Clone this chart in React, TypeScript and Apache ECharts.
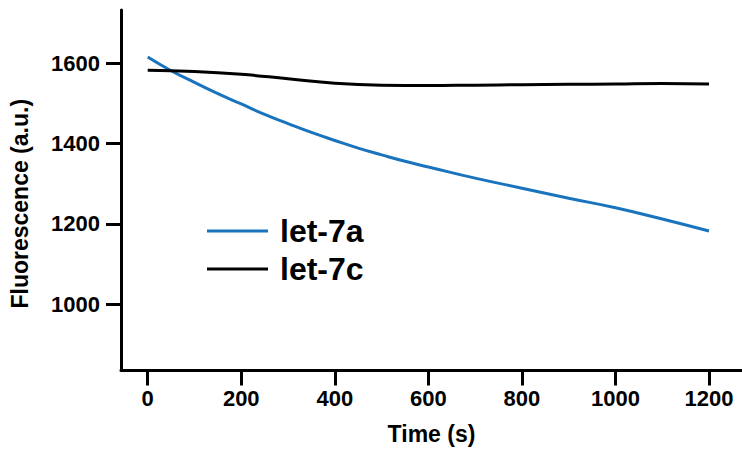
import React, { useEffect, useRef } from "react";
import * as echarts from "echarts";

const timeA = [0, 50, 100, 150, 200, 250, 300, 350, 400, 450, 500, 550, 600, 700, 800, 900, 1000, 1100, 1200];
const let7a = [1616, 1582, 1553, 1525, 1499, 1473, 1450, 1428, 1408, 1389, 1372, 1356, 1342, 1314, 1289, 1264, 1240, 1212, 1182];
const timeC = [0, 100, 200, 300, 400, 500, 600, 700, 800, 900, 1000, 1100, 1200];
const let7c = [1583, 1580, 1573, 1562, 1551, 1546, 1545, 1546, 1547, 1548, 1549, 1550, 1549];
const xTicks = [0, 200, 400, 600, 800, 1000, 1200];
const yTicks = [1000, 1200, 1400, 1600];

const FONT = "'Liberation Sans', Arial, Helvetica, sans-serif";

export default function App() {
  const ref = useRef<HTMLDivElement>(null);
  useEffect(() => {
    if (!ref.current) return;
    const chart = echarts.init(ref.current, undefined, { renderer: "svg" });
    const axisCommon = {
      axisLine: { show: true, onZero: false, lineStyle: { color: "#000", width: 3 } },
      splitLine: { show: false },
      nameLocation: "middle" as const,
    };
    const tick = { show: true, length: 15, lineStyle: { color: "#000", width: 3 } };
    const label = { color: "#000", fontSize: 22, fontWeight: "bold" as const, fontFamily: FONT, formatter: (v: number) => String(v) };
    chart.setOption({
      animation: false,
      backgroundColor: "#fff",
      grid: { left: 121, top: 10, right: 0, bottom: 86.5, containLabel: false },
      legend: {
        left: 207,
        top: 215,
        padding: 0,
        orient: "vertical",
        icon: "rect",
        itemWidth: 61,
        itemHeight: 3,
        itemGap: 6,
        textStyle: { color: "#000", fontSize: 32, fontWeight: "bold", fontFamily: FONT, lineHeight: 32, padding: [0, 0, 0, 7] },
        data: ["let-7a", "let-7c"],
      },
      xAxis: {
        ...axisCommon,
        type: "value",
        min: -57.1,
        max: 1270.5,
        name: "Time (s)",
        nameGap: 52,
        nameTextStyle: { color: "#000", fontSize: 23, fontWeight: "bold", fontFamily: FONT },
        axisTick: { ...tick, customValues: xTicks },
        axisLabel: { ...label, customValues: xTicks, margin: 17 },
      },
      yAxis: {
        ...axisCommon,
        type: "value",
        min: 834.1,
        max: 1733.5,
        name: "Fluorescence (a.u.)",
        nameGap: 90,
        nameTextStyle: { color: "#000", fontSize: 23, fontWeight: "bold", fontFamily: FONT, padding: [0, 27, 0, 0] },
        axisTick: { ...tick, customValues: yTicks },
        axisLabel: { ...label, customValues: yTicks, margin: 21 },
      },
      series: [
        {
          name: "let-7a",
          type: "line",
          smooth: true,
          symbol: "none",
          data: timeA.map((t, i) => [t, let7a[i]]),
          lineStyle: { color: "#1a74bd", width: 3 },
          itemStyle: { color: "#1a74bd" },
        },
        {
          name: "let-7c",
          type: "line",
          smooth: true,
          symbol: "none",
          data: timeC.map((t, i) => [t, let7c[i]]),
          lineStyle: { color: "#000", width: 3 },
          itemStyle: { color: "#000" },
        },
      ],
    });
    return () => chart.dispose();
  }, []);
  return (
    <div
      ref={ref}
      style={{ position: "absolute", left: 0, top: 0, width: 742, height: 457 }}
    />
  );
}
